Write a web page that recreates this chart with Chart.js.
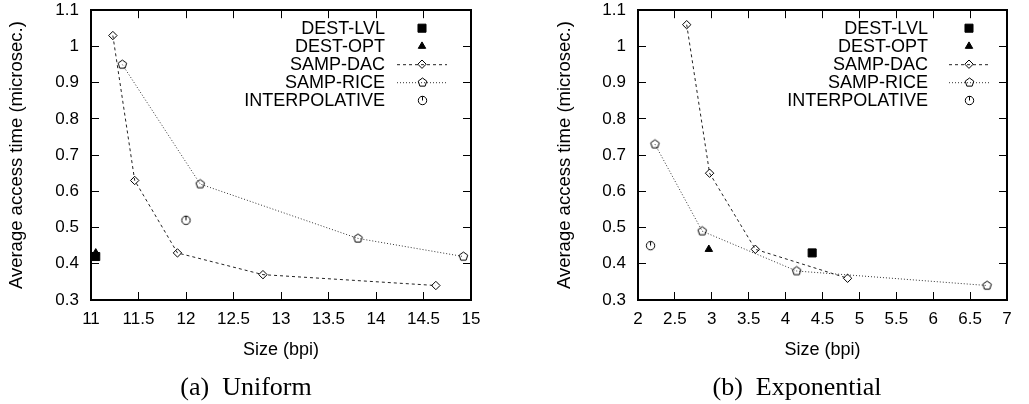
<!DOCTYPE html>
<html>
<head>
<meta charset="utf-8">
<script src="https://cdn.jsdelivr.net/npm/chart.js@4.4.1/dist/chart.umd.min.js"></script>
<style>
body { margin: 0; background: #fff; }
.box { position: absolute; top: -20px; height: 424px; }
</style>
</head>
<body>
<div class="box" style="left:0;width:500px"><canvas id="uni"></canvas></div>
<div class="box" style="left:500px;width:529px"><canvas id="expo"></canvas></div>
<script>
// series labels
var seriesNames = ["DEST-LVL", "DEST-OPT", "SAMP-DAC", "SAMP-RICE", "INTERPOLATIVE"];

// (a) Uniform
var uniLvlX = [11.05], uniLvlY = [0.42];
var uniOptX = [11.05], uniOptY = [0.43];
var uniDacX = [11.23, 11.46, 11.91, 12.81, 14.63];
var uniDacY = [1.03, 0.63, 0.43, 0.37, 0.34];
var uniRiceX = [11.33, 12.15, 13.81, 14.92];
var uniRiceY = [0.95, 0.62, 0.47, 0.42];
var uniIntX = [12.0], uniIntY = [0.52];

// (b) Exponential
var expLvlX = [4.36], expLvlY = [0.43];
var expOptX = [2.96], expOptY = [0.44];
var expDacX = [2.66, 2.97, 3.59, 4.84];
var expDacY = [1.06, 0.65, 0.44, 0.36];
var expRiceX = [2.23, 2.87, 4.15, 6.73];
var expRiceY = [0.73, 0.49, 0.38, 0.34];
var expIntX = [2.17], expIntY = [0.45];

var FONT = '"Liberation Sans", Arial, sans-serif';

function pts(xs, ys) {
    return xs.map(function (x, i) { return { x: x, y: ys[i] }; });
}

// pentagon and "circle with a tick" have no built-in style, so draw them once
function marker(kind, r) {
    var s = 2 * Math.ceil(r) + 3;
    var c = document.createElement("canvas");
    c.width = s; c.height = s;
    var g = c.getContext("2d"), m = s / 2;
    g.strokeStyle = "#000"; g.lineWidth = 1;
    g.beginPath();
    if (kind == "pentagon") {
        for (var i = 0; i < 5; i++) {
            var an = -Math.PI / 2 + i * 2 * Math.PI / 5;
            var px = m + r * Math.cos(an), py = m + r * Math.sin(an);
            if (i == 0) g.moveTo(px, py); else g.lineTo(px, py);
        }
        g.closePath();
    } else {
        g.arc(m, m, r, 0, 2 * Math.PI);
        g.moveTo(m, m); g.lineTo(m, m - r);
    }
    g.stroke();
    return c;
}

var mkPent = marker("pentagon", 4.5);
var mkCirc = marker("circle", 4.2);

function drawMark(ctx, ds, x, y) {
    var st = ds.pointStyle;
    if (typeof st != "string") {
        ctx.drawImage(st, Math.round(x - st.width / 2), Math.round(y - st.height / 2));
        return;
    }
    ctx.save();
    ctx.strokeStyle = "#000";
    ctx.fillStyle = ds.pointBackgroundColor;
    ctx.lineWidth = 1;
    Chart.helpers.drawPoint(ctx, { pointStyle: st, radius: ds.pointRadius, borderWidth: 1, rotation: 0 }, x, y);
    ctx.restore();
}

// frame, gnuplot-style key and the sub-figure caption
var keyPlugin = {
    id: "key",
    afterDraw: function (chart, args, opts) {
        var a = chart.chartArea, ctx = chart.ctx;
        var L = Math.round(a.left), R = Math.round(a.right), T = Math.round(a.top), B = Math.round(a.bottom);
        ctx.save();
        ctx.fillStyle = "#000";
        ctx.fillRect(L - 1, T - 1, R - L + 2, 2);
        ctx.fillRect(L - 1, B - 1, R - L + 2, 2);
        ctx.fillRect(L - 1, T - 1, 2, B - T + 2);
        ctx.fillRect(R - 1, T - 1, 2, B - T + 2);

        ctx.font = "18px " + FONT;
        ctx.textAlign = "right";
        ctx.textBaseline = "middle";
        chart.data.datasets.forEach(function (ds, i) {
            var y = a.top + 18 + 18 * i;
            ctx.fillStyle = "#000";
            ctx.fillText(ds.label, a.right + opts.text, y + 1);
            var mx = a.right + (opts.from + opts.to) / 2;
            if (ds.showLine) {
                ctx.strokeStyle = ds.borderColor;
                ctx.lineWidth = 1;
                ctx.setLineDash(ds.borderDash);
                ctx.beginPath();
                ctx.moveTo(a.right + opts.from, y + 0.5);
                ctx.lineTo(a.right + opts.to, y + 0.5);
                ctx.stroke();
                ctx.setLineDash([]);
            }
            drawMark(ctx, ds, mx, y);
        });

        ctx.fillStyle = "#000";
        ctx.font = '26px "Liberation Serif", serif';
        ctx.textAlign = "center";
        ctx.fillText(opts.caption, opts.capX, 408);
        ctx.restore();
    }
};

function makeSets(lvl, opt, dac, rice, interp) {
    return [
        { label: seriesNames[0], data: lvl, pointStyle: "rect", pointRadius: 5.7, pointBackgroundColor: "#000", pointBorderColor: "#000", showLine: false },
        { label: seriesNames[1], data: opt, pointStyle: "triangle", pointRadius: 4.3, pointBackgroundColor: "#000", pointBorderColor: "#000", showLine: false },
        { label: seriesNames[2], data: dac, pointStyle: "rectRot", pointRadius: 4.2, pointBackgroundColor: "rgba(0,0,0,0)", pointBorderColor: "#000", pointBorderWidth: 1, showLine: true, borderColor: "#222", borderWidth: 1, borderDash: [3, 3] },
        { label: seriesNames[3], data: rice, pointStyle: mkPent, pointRadius: 5, showLine: true, borderColor: "#333", borderWidth: 1, borderDash: [1, 2] },
        { label: seriesNames[4], data: interp, pointStyle: mkCirc, pointRadius: 5, showLine: false }
    ];
}

function fmt(v) { return String(Math.round(v * 10) / 10); }

// inward tick marks (negative tick length points into the plot)
var frameBorder = { display: true, color: "#000", width: 1.5 };
var inwardTicks = { display: true, drawOnChartArea: false, drawTicks: true, tickLength: -8, color: "#000", lineWidth: 1 };

function makeChart(id, sets, xmin, xmax, padLeft, padRight, key) {
    return new Chart(id, {
        type: "scatter",
        data: { datasets: sets },
        plugins: [keyPlugin],
        options: {
            responsive: true,
            maintainAspectRatio: false,
            animation: false,
            clip: false,
            layout: { padding: { top: 0, right: padRight, bottom: 0, left: padLeft } },
            elements: {
                point: { hoverRadius: 5 },
                line: { tension: 0, fill: false }
            },
            plugins: {
                legend: { display: false },
                tooltip: { enabled: false },
                key: key
            },
            scales: {
                x: {
                    type: "linear", min: xmin, max: xmax,
                    border: frameBorder,
                    grid: inwardTicks,
                    ticks: { stepSize: 0.5, padding: 17, color: "#000", font: { size: 17, family: FONT }, maxRotation: 0, autoSkip: false, callback: fmt },
                    title: { display: true, text: "Size (bpi)", color: "#000", font: { size: 18, family: FONT }, padding: { top: 0, bottom: 43 } },
                    afterFit: function (s) { s.height = 104; }
                },
                x2: {
                    type: "linear", position: "top", min: xmin, max: xmax,
                    border: frameBorder,
                    grid: inwardTicks,
                    ticks: { stepSize: 0.5, display: false },
                    afterFit: function (s) { s.height = 0; }
                },
                y: {
                    type: "linear", min: 0.3, max: 1.1,
                    border: frameBorder,
                    grid: inwardTicks,
                    ticks: { stepSize: 0.1, padding: 20, color: "#000", font: { size: 17, family: FONT }, callback: fmt },
                    title: { display: true, text: "Average access time (microsec.)", color: "#000", font: { size: 18.5, family: FONT }, padding: { top: 6, bottom: 0 } },
                    afterFit: function (s) { s.width = padLeft ? 90 : 91; }
                },
                y2: {
                    type: "linear", position: "right", min: 0.3, max: 1.1,
                    border: frameBorder,
                    grid: inwardTicks,
                    ticks: { stepSize: 0.1, display: false },
                    afterFit: function (s) { s.width = 0; }
                }
            }
        }
    });
}

makeChart("uni",
    makeSets(pts(uniLvlX, uniLvlY), pts(uniOptX, uniOptY), pts(uniDacX, uniDacY), pts(uniRiceX, uniRiceY), pts(uniIntX, uniIntY)),
    11, 15, 0, 29, { text: -86, from: -74, to: -24, caption: "(a)  Uniform", capX: 246 });

makeChart("expo",
    makeSets(pts(expLvlX, expLvlY), pts(expOptX, expOptY), pts(expDacX, expDacY), pts(expRiceX, expRiceY), pts(expIntX, expIntY)),
    2, 7, 48, 22, { text: -79, from: -58, to: -18, caption: "(b)  Exponential", capX: 297 });
</script>
</body>
</html>
